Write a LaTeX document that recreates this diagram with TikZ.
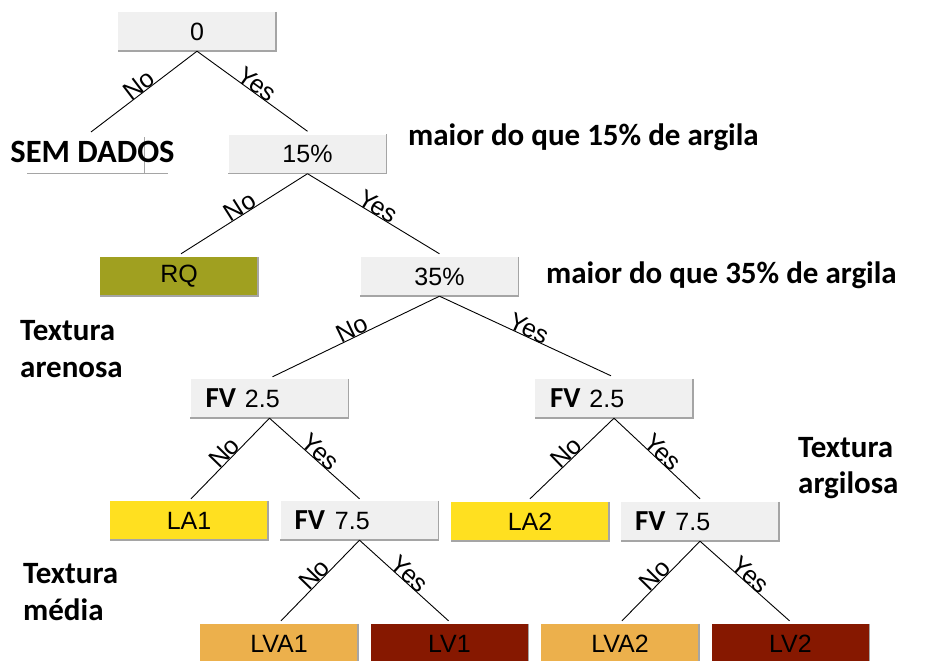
\documentclass[tikz,border=0pt]{standalone}
\usepackage{fontspec}
\setmainfont{Liberation Sans}
\newfontfamily\calib{Carlito}
\definecolor{boxgray}{RGB}{240,240,240}
\definecolor{shadowgray}{RGB}{165,165,165}
\definecolor{rqcol}{RGB}{160,160,32}
\definecolor{lacol}{RGB}{255,224,32}
\definecolor{lvacol}{RGB}{236,176,76}
\definecolor{lvcol}{RGB}{134,24,0}
\begin{document}
\begin{tikzpicture}[x=1pt,y=-1pt,
  tbox/.style={rectangle, minimum width=158pt, minimum height=39pt, inner sep=0pt,
    font=\fontsize{25}{28}\selectfont},
  greybox/.style={tbox, fill=boxgray},
  fvbox/.style={greybox, text width=128pt, inner xsep=15pt, align=left},
  edge/.style={draw=black, line width=0.9pt},
  lab/.style={midway, sloped, anchor=base, inner sep=1pt, font=\fontsize{25}{28}\selectfont},
  side/.style={anchor=base west, inner sep=0pt, font=\calib\bfseries\fontsize{31}{38}\selectfont},
  shadowline/.style={draw=shadowgray, line width=1.5pt},
]
\useasboundingbox (0,0) rectangle (930,661);
\fill[white] (0,0) rectangle (930,661);

% boxes
\node[greybox] (n0) at (197,31.5) {0};
\node[greybox] (n15) at (307.5,154) {15\%};
\node[tbox, fill=rqcol] (rq) at (179,276.5) {RQ};
\node[greybox] (n35) at (439.5,276.5) {35\%};
\node[fvbox] (fvL) at (269.5,398.5) {{\calib\bfseries\fontsize{29}{30}\selectfont FV}\hspace{9pt}2.5};
\node[fvbox] (fvR) at (614,398.5) {{\calib\bfseries\fontsize{29}{30}\selectfont FV}\hspace{9pt}2.5};
\node[tbox, fill=lacol] (la1) at (189,520.5) {LA1};
\node[fvbox, inner xsep=14pt, text width=130pt] (fv7L) at (359.5,520.5) {{\calib\bfseries\fontsize{29}{30}\selectfont FV}\hspace{10pt}7.5};
\node[tbox, fill=lacol] (la2) at (530,521.5) {LA2};
\node[fvbox, inner xsep=14pt, text width=130pt] (fv7R) at (700,521.5) {{\calib\bfseries\fontsize{29}{30}\selectfont FV}\hspace{10pt}7.5};
\node[tbox, fill=lvacol] (lva1) at (279,643.5) {LVA1};
\node[tbox, fill=lvcol] (lv1) at (449.5,643.5) {LV1};
\node[tbox, fill=lvacol] (lva2) at (620,643.5) {LVA2};
\node[tbox, fill=lvcol] (lv2) at (790.5,643.5) {LV2};

\foreach \n in {n0,n15,rq,n35,fvL,fvR,la1,fv7L,la2,fv7R,lva1,lv1,lva2,lv2}
  \draw[shadowline] (\n.north east) -- (\n.south east) -- (\n.south west);

% SEM DADOS leaf
\coordinate (semtop) at (91,132);
\coordinate (semA) at (27,173);
\coordinate (semB) at (168,173);
\coordinate (semC) at (144,137);
\coordinate (semD) at (144,173);
\draw[draw=shadowgray, line width=1pt] (semA) -- (semB);
\draw[draw=shadowgray, line width=1pt] (semC) -- (semD);
\node[anchor=base, inner sep=0pt, font=\calib\bfseries\fontsize{32.5}{38}\selectfont] (sem) at (92.5,162) {SEM DADOS};

% edges
\draw[edge] (n0.south) -- (semtop) node[lab] {No};
\draw[edge] (n0.south) -- ([yshift=3pt]n15.north) node[lab] {Yes};
\draw[edge] (n15.south) -- ([yshift=3pt,xshift=2pt]rq.north) node[lab] {No};
\draw[edge] (n15.south) -- ([yshift=3pt]n35.north) node[lab] {Yes};
\draw[edge] (n35.south) -- ([yshift=2pt,xshift=3pt]fvL.north) node[lab] {No};
\draw[edge] (n35.south) -- ([yshift=3pt,xshift=-3pt]fvR.north) node[lab] {Yes};
\draw[edge] (fvL.south) -- ([yshift=2pt,xshift=2pt]la1.north) node[lab] {No};
\draw[edge] (fvL.south) -- ([yshift=2pt]fv7L.north) node[lab] {Yes};
\draw[edge] (fvR.south) -- ([yshift=3pt]la2.north) node[lab] {No};
\draw[edge] (fvR.south) -- ([yshift=3pt]fv7R.north) node[lab] {Yes};
\draw[edge] (fv7L.south) -- ([yshift=3pt,xshift=2pt]lva1.north) node[lab] {No};
\draw[edge] (fv7L.south) -- ([yshift=3pt,xshift=-1pt]lv1.north) node[lab] {Yes};
\draw[edge] (fv7R.south) -- ([yshift=3pt,xshift=2pt]lva2.north) node[lab] {No};
\draw[edge] (fv7R.south) -- ([yshift=3pt,xshift=-1pt]lv2.north) node[lab] {Yes};

% side annotations
\node[side] (t15) at (408,145) {maior do que 15\% de argila};
\node[side] (t35) at (546,283) {maior do que 35\% de argila};
\node[side] (areA) at (20,340) {Textura};
\node[side] (areB) at (20,377) {arenosa};
\node[side] (argA) at (798,457) {Textura};
\node[side] (argB) at (798,493) {argilosa};
\node[side] (medA) at (23,583) {Textura};
\node[side] (medB) at (23,620) {média};
\end{tikzpicture}
\end{document}
